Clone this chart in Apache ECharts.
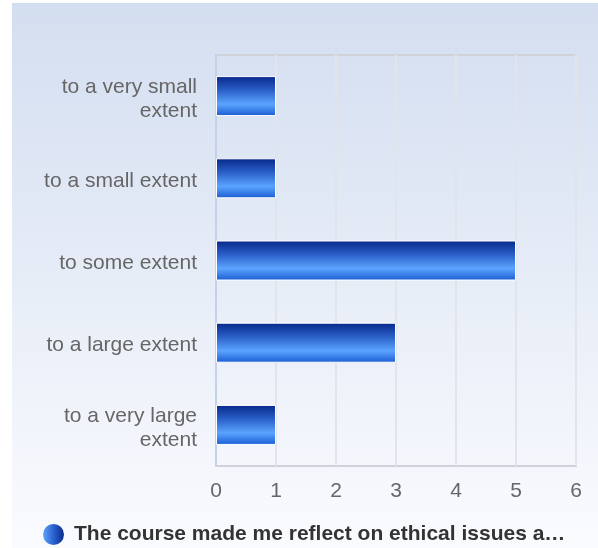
<!DOCTYPE html>
<html>
<head>
<meta charset="utf-8">
<script src="https://cdn.jsdelivr.net/npm/echarts@6/dist/echarts.min.js"></script>
<style>
html,body{margin:0;padding:0;background:#fff;}
#main{width:598px;height:548px;}
</style>
</head>
<body>
<div id="main"></div>
<script>
var categories = ['to a very small\nextent', 'to a small extent', 'to some extent', 'to a large extent', 'to a very large\nextent'];
var values = [1, 1, 5, 3, 1];
var xTicks = [0, 1, 2, 3, 4, 5, 6];
var seriesName = 'The course made me reflect on ethical issues a\u2026';

var chart = echarts.init(document.getElementById('main'), null, {renderer: 'canvas'});
var barGradient = new echarts.graphic.LinearGradient(0, 0, 0, 1, [
  {offset: 0, color: '#07278a'},
  {offset: 0.35, color: '#2a5fc8'},
  {offset: 0.7, color: '#5ba4ff'},
  {offset: 1, color: '#1a5cd2'}
]);
var legendGradient = new echarts.graphic.LinearGradient(0, 0, 1, 0, [
  {offset: 0, color: '#5ea4fb'},
  {offset: 0.5, color: '#2a62d0'},
  {offset: 1, color: '#0a2a8a'}
]);
var labelFont = {fontFamily: 'Liberation Sans, Arial, sans-serif', fontSize: 21, color: '#666666', lineHeight: 24, align: 'right'};
chart.setOption({
  animation: false,
  graphic: [{
    type: 'rect',
    z: -10,
    silent: true,
    shape: {x: 12, y: 3, width: 586, height: 545},
    style: {
      fill: new echarts.graphic.LinearGradient(0, 0, 0, 1, [
        {offset: 0, color: '#d3def0'},
        {offset: 1, color: '#fafbfe'}
      ])
    }
  }],
  grid: {left: 216, right: 22, top: 55, bottom: 82, show: true, borderColor: '#cfd2d8', borderWidth: 2, backgroundColor: 'transparent'},
  legend: {
    left: 43,
    top: 524,
    padding: 0,
    icon: 'circle',
    itemWidth: 21,
    itemHeight: 21,
    selectedMode: false,
    data: [{name: seriesName, itemStyle: {color: legendGradient, borderWidth: 0}}],
    textStyle: {fontFamily: 'Liberation Sans, Arial, sans-serif', fontSize: 21, fontWeight: 'bold', color: '#333333', padding: [0, 0, 0, 5]}
  },
  xAxis: {
    type: 'value',
    min: xTicks[0],
    max: xTicks[xTicks.length - 1],
    interval: 1,
    axisLine: {show: false},
    axisTick: {show: false},
    splitLine: {show: true, lineStyle: {color: '#e1e4ea', width: 2}},
    axisLabel: {fontFamily: 'Liberation Sans, Arial, sans-serif', fontSize: 21, color: '#666666', margin: 15}
  },
  yAxis: {
    type: 'category',
    inverse: true,
    data: categories,
    axisLine: {show: true, lineStyle: {color: '#c5d1e8', width: 2}},
    axisTick: {show: false},
    axisLabel: {
      margin: 19,
      align: 'right',
      formatter: function (v) {
        return v.split('\n').map(function (l) { return '{f|' + l + '}'; }).join('\n');
      },
      rich: {
        f: Object.assign({padding: [6, 0, 0, 0]}, labelFont)
      }
    }
  },
  series: [{
    name: seriesName,
    type: 'bar',
    data: values,
    barWidth: 40,
    itemStyle: {color: barGradient, borderColor: '#ffffff', borderWidth: 1}
  }]
});
</script>
</body>
</html>
